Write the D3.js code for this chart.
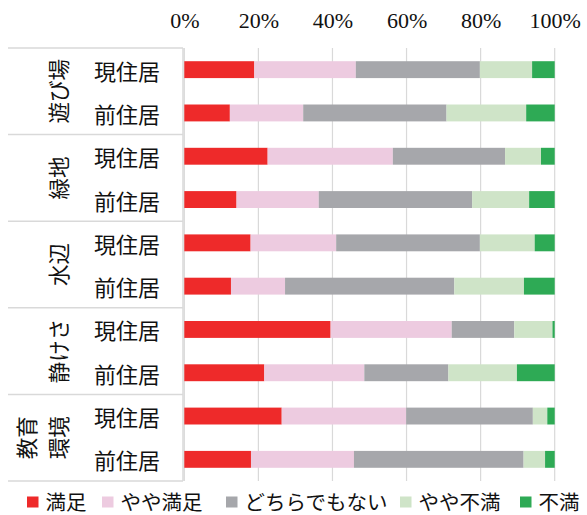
<!DOCTYPE html>
<html>
<head>
<meta charset="utf-8">
<script src="https://cdn.jsdelivr.net/npm/d3@7"></script>
<style>
  body { margin: 0; background: #fff; }
  svg { display: block; }
  .tick text { font-family: "Liberation Serif", "Times New Roman", serif; font-size: 22px; fill: #111; }
  .jp { font-family: "Noto Sans CJK JP", sans-serif; fill: #111; }
</style>
</head>
<body>
<div id="chart-area"><svg></svg></div>
<script>
const chartSize = { width: 587, height: 515 };
const margin = { left: 184.3, right: 32.3, top: 48, bottom: 34 };

const width = chartSize.width - margin.left - margin.right;
const height = chartSize.height - margin.top - margin.bottom;

// data
const groups = ["遊び場", "緑地", "水辺", "静けさ", "教育環境"];
const groupLines = [["遊び場"], ["緑地"], ["水辺"], ["静けさ"], ["教育", "環境"]];
const periods = ["現住居", "前住居"];
const keys = ["満足", "やや満足", "どちらでもない", "やや不満", "不満"];
const colors = ["#ee2a2a", "#edcbe0", "#a6a7ab", "#cfe4c8", "#2eaa55"];
const ticks = [0, 20, 40, 60, 80, 100];

const manzoku      = [18.9, 12.3, 22.5, 14.1, 17.9, 12.6, 39.5, 21.6, 26.3, 18.0];
const yayaManzoku  = [27.4, 19.8, 33.8, 22.2, 23.1, 14.6, 32.7, 27.0, 33.6, 27.8];
const dochiramo    = [33.5, 38.7, 30.3, 41.4, 38.8, 45.7, 16.9, 22.7, 34.2, 45.8];
const yayaFuman    = [14.1, 21.5, 9.7, 15.4, 14.8, 18.8, 10.3, 18.5, 3.9, 5.8];
const fuman        = [6.1, 7.7, 3.7, 6.9, 5.4, 8.3, 0.6, 10.2, 2.0, 2.6];

// legend item positions (layout)
const legendX = [27, 102, 226, 400, 520];

const rows = [];
groups.forEach((g, gi) => {
  periods.forEach((p, pi) => {
    const i = gi * 2 + pi;
    rows.push({
      id: g + "-" + p, group: g, period: p,
      "満足": manzoku[i], "やや満足": yayaManzoku[i], "どちらでもない": dochiramo[i],
      "やや不満": yayaFuman[i], "不満": fuman[i]
    });
  });
});

const svg = d3.select("#chart-area svg")
  .attr("width", chartSize.width)
  .attr("height", chartSize.height);

const chart = svg.append("g")
  .attr("transform", `translate(${margin.left}, ${margin.top})`);

const x = d3.scaleLinear().domain([0, 100]).range([0, width]);
const y = d3.scaleBand().domain(rows.map(r => r.id)).range([0, height]).paddingInner(0.61).paddingOuter(0.305);
const yGroup = d3.scaleBand().domain(groups).range([0, height]);
const color = d3.scaleOrdinal().domain(keys).range(colors);

// grid
chart.append("g")
  .selectAll("line")
  .data(ticks)
  .join("line")
  .attr("x1", d => x(d)).attr("x2", d => x(d))
  .attr("y1", 0).attr("y2", height)
  .attr("stroke", "#d9d9d9").attr("stroke-width", 1.2);

// top axis
const xAxis = d3.axisTop(x).tickValues(ticks).tickFormat(d => d + "%").tickSize(0).tickPadding(20);
chart.append("g").call(xAxis).call(g => g.select(".domain").remove());

// bars
const series = d3.stack().keys(keys)(rows);
chart.append("g")
  .selectAll("g")
  .data(series)
  .join("g")
  .attr("fill", d => color(d.key))
  .selectAll("rect")
  .data(d => d)
  .join("rect")
  .attr("x", d => x(d[0]))
  .attr("width", d => x(d[1]) - x(d[0]))
  .attr("y", d => y(d.data.id))
  .attr("height", y.bandwidth());

// table on left
const table = svg.append("g").attr("transform", `translate(0, ${margin.top})`);
const tableLeft = 8, tableRight = 183;

table.selectAll("line.h")
  .data([0, ...groups.map(g => yGroup(g) + yGroup.bandwidth())])
  .join("line")
  .attr("class", "h")
  .attr("x1", tableLeft).attr("x2", tableRight)
  .attr("y1", d => d).attr("y2", d => d)
  .attr("stroke", "#d9d9d9").attr("stroke-width", 1.5);

table.append("line")
  .attr("x1", tableRight).attr("x2", tableRight)
  .attr("y1", 0).attr("y2", height)
  .attr("stroke", "#d9d9d9").attr("stroke-width", 1.5);

// row labels
table.selectAll("text.period")
  .data(rows)
  .join("text")
  .attr("class", "period jp")
  .attr("x", 127)
  .attr("y", d => y(d.id) + y.bandwidth() / 2)
  .attr("text-anchor", "middle")
  .attr("dominant-baseline", "central")
  .attr("font-size", 22)
  .text(d => d.period);

// group labels (rotated)
groups.forEach((g, gi) => {
  const lines = groupLines[gi];
  const cx = 57 - (lines.length - 1) * 32;
  const cy = yGroup(g) + yGroup.bandwidth() / 2;
  const t = table.append("text")
    .attr("class", "jp")
    .attr("font-size", 21.5)
    .attr("text-anchor", "middle")
    .attr("transform", `translate(${cx}, ${cy}) rotate(-90)`);
  lines.forEach((l, li) => {
    t.append("tspan")
      .attr("x", 0)
      .attr("y", li * 32)
      .attr("dominant-baseline", "central")
      .text(l);
  });
});

// legend
const legend = svg.append("g").attr("transform", "translate(0, 501)");
keys.forEach((k, i) => {
  const item = legend.append("g").attr("transform", `translate(${legendX[i]}, 0)`);
  item.append("rect")
    .attr("x", 0).attr("y", -4.5)
    .attr("width", 11.5).attr("height", 11)
    .attr("fill", color(k));
  item.append("text")
    .attr("class", "jp")
    .attr("x", 18.5)
    .attr("y", 0)
    .attr("dominant-baseline", "central")
    .attr("font-size", 20.5)
    .text(k);
});
</script>
</body>
</html>
